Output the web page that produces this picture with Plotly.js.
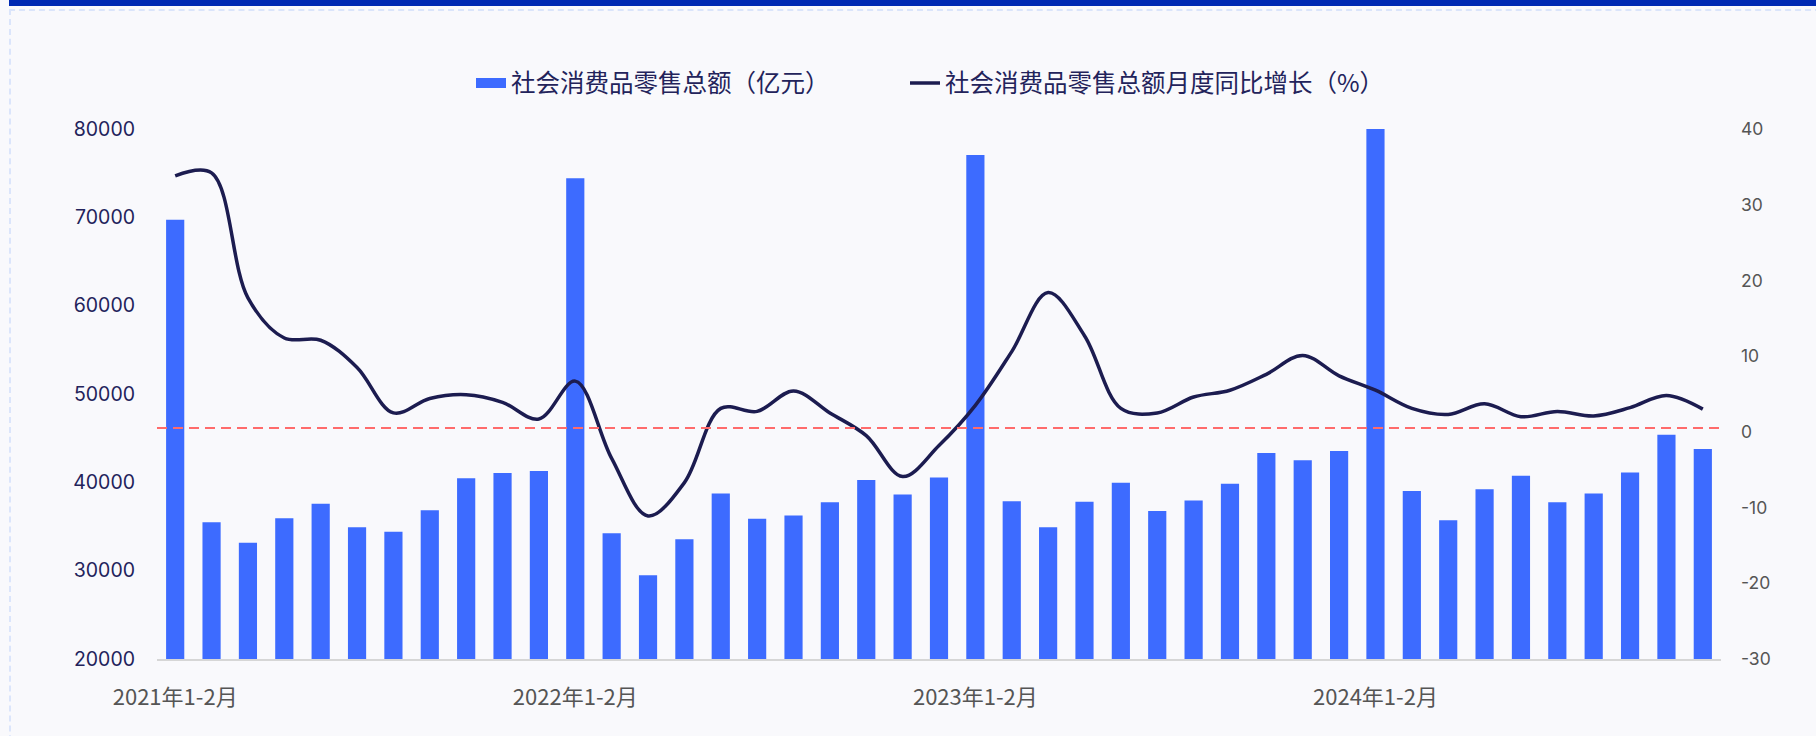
<!DOCTYPE html>
<html>
<head>
<meta charset="utf-8">
<script src="https://cdn.plot.ly/plotly-3.0.1.min.js"></script>
<style>
  html, body { margin: 0; padding: 0; background: #f9f9fc; }
  #wrap { position: relative; width: 1816px; height: 736px; overflow: hidden; background: #f9f9fc; }
  #chart { position: absolute; left: 0; top: 0; width: 1816px; height: 736px; }
  #topband { position: absolute; left: 9px; top: 0; width: 1807px; height: 6px; background: #0029b3; z-index: 5; }
  #frame { position: absolute; left: 9px; top: 9px; width: 1820px; height: 800px;
           border-top: 2px dashed #dbe5fb; border-left: 2px dashed #dbe5fb; z-index: 5; pointer-events: none; }
</style>
</head>
<body>
<div id="wrap">
  <div id="chart"></div>
  <div id="topband"></div>
  <div id="frame"></div>
</div>
<script>
// ---- data ----
const categories = [
  '2021年1-2月','2021年3月','2021年4月','2021年5月','2021年6月','2021年7月','2021年8月','2021年9月','2021年10月','2021年11月','2021年12月',
  '2022年1-2月','2022年3月','2022年4月','2022年5月','2022年6月','2022年7月','2022年8月','2022年9月','2022年10月','2022年11月','2022年12月',
  '2023年1-2月','2023年3月','2023年4月','2023年5月','2023年6月','2023年7月','2023年8月','2023年9月','2023年10月','2023年11月','2023年12月',
  '2024年1-2月','2024年3月','2024年4月','2024年5月','2024年6月','2024年7月','2024年8月','2024年9月','2024年10月','2024年11月'
];
const retailSales = [
  69737, 35484, 33153, 35945, 37586, 34925, 34395, 36833, 40454, 41043, 41269,
  74426, 34233, 29483, 33547, 38742, 35870, 36258, 37745, 40271, 38615, 40542,
  77067, 37855, 34910, 37803, 39951, 36761, 37933, 39826, 43333, 42505, 43550,
  81307, 39020, 35699, 39211, 40732, 37757, 38726, 41112, 45396, 43763
];
const yoyGrowth = [
  33.8, 34.2, 17.7, 12.4, 12.1, 8.5, 2.5, 4.4, 4.9, 3.9, 1.7,
  6.7, -3.5, -11.1, -6.7, 3.1, 2.7, 5.4, 2.5, -0.5, -5.9, -1.8,
  3.5, 10.6, 18.4, 12.7, 3.1, 2.5, 4.6, 5.5, 7.6, 10.1, 7.4,
  5.5, 3.1, 2.3, 3.7, 2.0, 2.7, 2.1, 3.2, 4.8, 3.0
];
const tickLabels = ['2021年1-2月','2022年1-2月','2023年1-2月','2024年1-2月'];
const leftTicks = [20000, 30000, 40000, 50000, 60000, 70000, 80000];
const rightTicks = [-30, -20, -10, 0, 10, 20, 30, 40];
const referenceLevel = 0.5;
const seriesNames = ['社会消费品零售总额（亿元）', '社会消费品零售总额月度同比增长（%）'];

// ---- chart ----
const navy = '#23235b';
const barColor = '#3d6bff';
const legendFont = { family: '"Noto Sans CJK SC", "Noto Sans", sans-serif', size: 24.5, color: navy };
const traces = [
  {
    type: 'bar', name: seriesNames[0], x: categories, y: retailSales,
    marker: { color: barColor }, yaxis: 'y', showlegend: false, legendgroup: 'sales'
  },
  // legend key for the bar series (wide rectangle like the reference)
  {
    type: 'scatter', mode: 'lines', name: seriesNames[0], x: [null], y: [null],
    line: { color: barColor, width: 14 }, yaxis: 'y', legendgroup: 'sales', hoverinfo: 'skip',
    legend: 'legend'
  },
  {
    type: 'scatter', mode: 'lines', name: seriesNames[1], x: categories, y: yoyGrowth,
    line: { color: '#1c1c50', width: 3.5, shape: 'spline', smoothing: 1 }, yaxis: 'y2',
    legend: 'legend2'
  }
];

const layout = {
  width: 1816, height: 736,
  paper_bgcolor: 'rgba(0,0,0,0)', plot_bgcolor: 'rgba(0,0,0,0)',
  margin: { l: 157, r: 95, t: 129, b: 77, pad: 0 },
  bargap: 0.5,
  showlegend: true,
  legend: {
    orientation: 'h', xref: 'container', yref: 'container',
    x: 471 / 1816, xanchor: 'left', y: 1 - 83 / 736, yanchor: 'middle',
    font: legendFont, bgcolor: 'rgba(0,0,0,0)'
  },
  legend2: {
    orientation: 'h', xref: 'container', yref: 'container',
    x: 905 / 1816, xanchor: 'left', y: 1 - 83 / 736, yanchor: 'middle',
    font: legendFont, bgcolor: 'rgba(0,0,0,0)'
  },
  xaxis: {
    type: 'category', categoryorder: 'array', categoryarray: categories,
    tickmode: 'array', tickvals: tickLabels, ticktext: tickLabels,
    showline: true, linecolor: '#d6d6d6', linewidth: 2, ticks: '',
    showgrid: false, zeroline: false, ticklabelstandoff: 18,
    tickfont: { family: '"Noto Sans CJK SC", "Noto Sans", sans-serif', size: 22, color: '#555555' },
    tickangle: 0
  },
  yaxis: {
    range: [20000, 80000], tickmode: 'array', tickvals: leftTicks,
    ticktext: leftTicks.map(String),
    showgrid: false, zeroline: false, showline: false, ticks: '',
    ticklabelstandoff: 21,
    tickfont: { family: 'Inter, "DejaVu Sans", sans-serif', size: 19.5, color: navy }
  },
  yaxis2: {
    range: [-30, 40], tickmode: 'array', tickvals: rightTicks,
    ticktext: rightTicks.map(String),
    overlaying: 'y', side: 'right',
    showgrid: false, zeroline: false, showline: false, ticks: '',
    ticklabelstandoff: 19,
    tickfont: { family: 'Inter, "DejaVu Sans", sans-serif', size: 17.5, color: '#555555' }
  },
  shapes: [
    {
      type: 'line', xref: 'paper', yref: 'y2', x0: 0, x1: 1,
      y0: referenceLevel, y1: referenceLevel,
      line: { color: '#ff6b6b', width: 2, dash: '10px,6px' }, layer: 'above'
    }
  ]
};

Plotly.newPlot('chart', traces, layout, { displayModeBar: false, responsive: false, staticPlot: true });
</script>
</body>
</html>
